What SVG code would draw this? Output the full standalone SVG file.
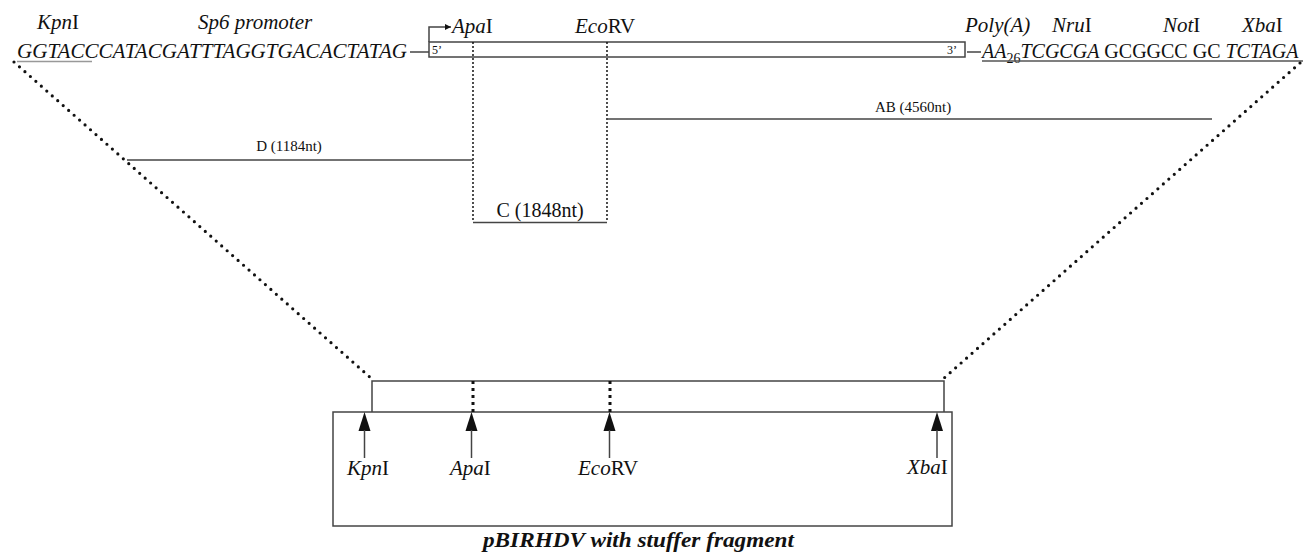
<svg xmlns="http://www.w3.org/2000/svg" width="1305" height="553" viewBox="0 0 1305 553">
<defs>
<style>
text{font-family:"Liberation Serif","Times New Roman","DejaVu Serif",serif;fill:#111}
.lab{font-size:21px}
.seq{font-size:20px}
.it{font-style:italic}
.ln{stroke:#444;stroke-width:1.5;fill:none}
.dot{stroke:#111;stroke-width:2;stroke-linecap:round;stroke-dasharray:0 4;fill:none}
.diag{stroke:#111;stroke-width:3.2;stroke-linecap:round;stroke-dasharray:0 7.3;fill:none}
.sq{stroke:#111;stroke-width:3;stroke-dasharray:3 4;fill:none}
.frag{font-size:15px}
</style>
<marker id="ah" viewBox="0 0 10 10" refX="10" refY="5" markerWidth="8" markerHeight="6" markerUnits="userSpaceOnUse" orient="auto"><path d="M0,0L10,5L0,10Z" fill="#111"/></marker>
</defs>
<rect width="1305" height="553" fill="#fff"/>

<g id="construct">
<text class="lab" x="37" y="29"><tspan class="it">Kpn</tspan>I</text>
<text class="lab it" x="198" y="29">Sp6 promoter</text>
<text class="seq it" x="17" y="58" textLength="390" lengthAdjust="spacingAndGlyphs">GGTACCCATACGATTTAGGTGACACTATAG</text>
<line x1="17" y1="61.5" x2="92" y2="61.5" stroke="#999" stroke-width="1.5"/>
<line class="ln" x1="410" y1="52" x2="429" y2="52"/>
<rect class="ln" x="429" y="42" width="536" height="15" stroke="#333"/>
<text x="432" y="54" font-size="12">5’</text>
<text x="947" y="54" font-size="12">3’</text>
<polyline class="ln" points="429,42 429,27 451,27" marker-end="url(#ah)" stroke-width="1.3"/>
<text class="lab" x="452" y="33"><tspan class="it">Apa</tspan>I</text>
<text class="lab" x="575" y="33"><tspan class="it">Eco</tspan>RV</text>
<text class="lab it" x="965" y="32">Poly(A)</text>
<text class="lab" x="1052" y="32"><tspan class="it">Nru</tspan>I</text>
<text class="lab" x="1163" y="32"><tspan class="it">Not</tspan>I</text>
<text class="lab" x="1242" y="32"><tspan class="it">Xba</tspan>I</text>
<line class="ln" x1="967" y1="52" x2="981" y2="52"/>
<text class="seq" x="982" y="58"><tspan class="it">AA</tspan><tspan font-size="14" dy="5">26</tspan><tspan class="it" dy="-5">TCGCGA</tspan> GCGGCC GC <tspan class="it">TCTAGA</tspan></text>
<line x1="982" y1="61" x2="1303" y2="61" stroke="#555" stroke-width="1.5"/>
</g>

<g id="fragments">
<line class="dot" x1="473" y1="43" x2="473" y2="222"/>
<line class="dot" x1="607" y1="43" x2="607" y2="222"/>
<line class="ln" x1="473" y1="222.5" x2="607" y2="222.5" stroke="#222" stroke-width="2"/>
<text class="seq" x="540" y="217" text-anchor="middle">C (1848nt)</text>
<line class="ln" x1="127" y1="160" x2="473" y2="160" stroke="#666"/>
<text class="frag" x="289" y="151" text-anchor="middle">D (1184nt)</text>
<line class="ln" x1="607" y1="119" x2="1212" y2="119"/>
<text class="frag" x="913" y="112" text-anchor="middle">AB (4560nt)</text>
</g>

<g id="connectors">
<line class="diag" x1="14" y1="62" x2="372" y2="379"/>
<line class="diag" x1="1300" y1="63" x2="943" y2="379"/>
</g>

<g id="plasmid">
<rect class="ln" x="333" y="412" width="619" height="114" stroke="#555"/>
<polyline class="ln" points="372,412 372,381 944,381 944,412" stroke="#555"/>
<line class="sq" x1="473" y1="381" x2="473" y2="412"/>
<line class="sq" x1="610" y1="381" x2="610" y2="412"/>
<g id="arrows" fill="#111">
<path d="M364.5,412L358.5,431L370.5,431Z"/><line class="ln" x1="364.5" y1="430" x2="364.5" y2="458" stroke="#333"/>
<path d="M471.5,412L465.5,431L477.5,431Z"/><line class="ln" x1="471.5" y1="430" x2="471.5" y2="458" stroke="#333"/>
<path d="M609.5,412L603.5,431L615.5,431Z"/><line class="ln" x1="609.5" y1="430" x2="609.5" y2="458" stroke="#333"/>
<path d="M937,412L931,431L943,431Z"/><line class="ln" x1="937" y1="430" x2="937" y2="458" stroke="#333"/>
</g>
<text class="lab" x="347" y="475"><tspan class="it">Kpn</tspan>I</text>
<text class="lab" x="450" y="475"><tspan class="it">Apa</tspan>I</text>
<text class="lab" x="578" y="475"><tspan class="it">Eco</tspan>RV</text>
<text class="lab" x="907" y="474"><tspan class="it">Xba</tspan>I</text>
<text x="483" y="547" font-size="20" font-weight="bold" font-style="italic" textLength="311" lengthAdjust="spacingAndGlyphs">pBIRHDV with stuffer fragment</text>
</g>
</svg>
